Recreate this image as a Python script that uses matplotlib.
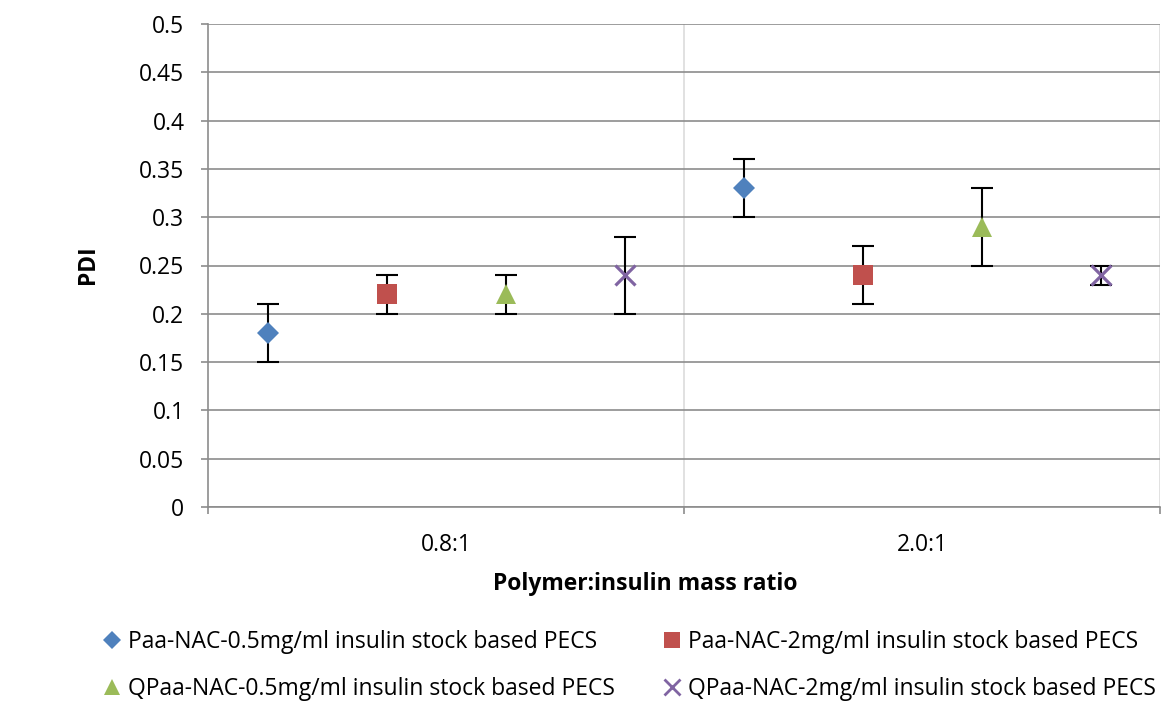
import matplotlib
matplotlib.use("Agg")
import matplotlib.pyplot as plt
from matplotlib.lines import Line2D

plt.rcParams['font.family'] = ['Open Sans', 'DejaVu Sans']

categories = ["0.8:1", "2.0:1"]
series_names = [
    "Paa-NAC-0.5mg/ml insulin stock based PECS",
    "Paa-NAC-2mg/ml insulin stock based PECS",
    "QPaa-NAC-0.5mg/ml insulin stock based PECS",
    "QPaa-NAC-2mg/ml insulin stock based PECS",
]
pdi_values = [
    [0.18, 0.33],
    [0.22, 0.24],
    [0.22, 0.29],
    [0.24, 0.24],
]
pdi_errors = [
    [0.03, 0.03],
    [0.02, 0.03],
    [0.02, 0.04],
    [0.04, 0.01],
]
yticks = [0, 0.05, 0.1, 0.15, 0.2, 0.25, 0.3, 0.35, 0.4, 0.45, 0.5]
ytick_labels = ["0", "0.05", "0.1", "0.15", "0.2", "0.25", "0.3", "0.35", "0.4", "0.45", "0.5"]

colors = ["#4F81BD", "#C0504D", "#9BBB59", "#8064A2"]
markers = ["D", "s", "^", "x"]
msizes = [11, 14, 14, 14]
mews = [0, 0, 0, 2.3]
fs = 16.5
W, H = 1176, 708

fig = plt.figure(figsize=(W / 100, H / 100), dpi=100)
ax = fig.add_axes([208 / W, 1 - 507 / H, (1160 - 208) / W, (507 - 24) / H])

n_series = len(series_names)
for k in range(n_series):
    xs = [i + (k + 0.5) / n_series for i in range(len(categories))]
    ax.errorbar(xs, pdi_values[k], yerr=pdi_errors[k], fmt="none",
                ecolor="black", elinewidth=1.5, capsize=8, capthick=1.5, zorder=3)
    ax.plot(xs, pdi_values[k], linestyle="none", marker=markers[k],
            markersize=msizes[k], color=colors[k], markeredgewidth=mews[k], zorder=4)

ax.set_xlim(0, len(categories))
ax.set_ylim(0, 0.5)
ax.set_yticks(yticks)
ax.set_yticklabels(ytick_labels)
ax.yaxis.grid(True, color="#8c8c8c", linewidth=1.2)
ax.set_axisbelow(True)

# category separators
ax.set_xticks(range(len(categories) + 1))
ax.set_xticklabels([])
for i in range(1, len(categories) + 1):
    ax.axvline(i, color="#dcdcdc", linewidth=1.2, zorder=0)
ax.set_xticks([i + 0.5 for i in range(len(categories))], minor=True)
ax.set_xticklabels(categories, minor=True)
ax.tick_params(axis="x", which="minor", length=0, pad=19, labelsize=fs)
ax.tick_params(axis="x", which="major", length=5, width=1.2, color="#8c8c8c")
ax.tick_params(axis="y", length=5, width=1.2, color="#8c8c8c", labelsize=fs, pad=12)

for side in ["top", "right"]:
    ax.spines[side].set_visible(False)
for side in ["left", "bottom"]:
    ax.spines[side].set_color("#8c8c8c")
    ax.spines[side].set_linewidth(1.2)

fig.text(88 / W, 1 - 265 / H, "PDI", rotation=90, fontsize=fs,
         fontweight="bold", ha="center", va="center")
fig.text(645 / W, 1 - 584 / H, "Polymer:insulin mass ratio", fontsize=fs,
         fontweight="bold", ha="center", va="center")

handles = [Line2D([], [], linestyle="none", marker=markers[k], color=colors[k],
                  markersize=[9, 11, 11, 11][k], markeredgewidth=[0, 0, 0, 2][k])
           for k in range(n_series)]
legend_kw = dict(loc="upper left", ncol=1, frameon=False, fontsize=fs,
                 handlelength=0.8, handletextpad=0.3, labelspacing=1.0,
                 borderaxespad=0, borderpad=0)
leg1 = fig.legend([handles[0], handles[2]], [series_names[0], series_names[2]],
                  bbox_to_anchor=(103 / W, 1 - 630 / H), **legend_kw)
leg2 = fig.legend([handles[1], handles[3]], [series_names[1], series_names[3]],
                  bbox_to_anchor=(663 / W, 1 - 630 / H), **legend_kw)

fig.savefig("out.png", dpi=100)
